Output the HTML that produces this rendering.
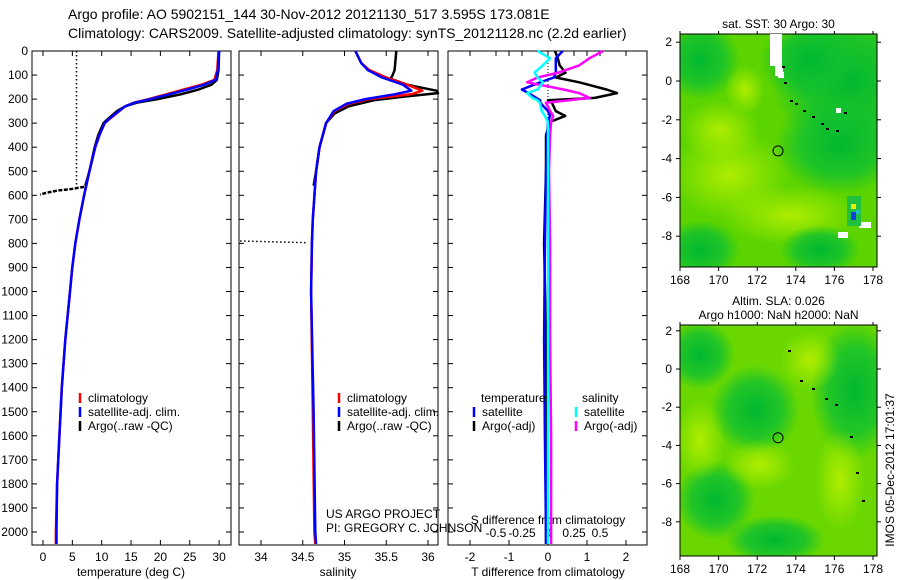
<!DOCTYPE html>
<html><head><meta charset="utf-8"><style>
html,body{margin:0;padding:0;background:#fff;}
svg{display:block;font-family:"Liberation Sans",sans-serif;}
</style></head><body>
<svg id="fig" width="900" height="580" viewBox="0 0 900 580">
<defs>
<radialGradient id="gY" cx="50%" cy="50%" r="50%"><stop offset="0" stop-color="#b8f000" stop-opacity="0.9"/><stop offset="1" stop-color="#b8f000" stop-opacity="0"/></radialGradient>
<radialGradient id="gD" cx="50%" cy="50%" r="50%"><stop offset="0" stop-color="#00b830" stop-opacity="1"/><stop offset="0.6" stop-color="#10c030" stop-opacity="0.8"/><stop offset="1" stop-color="#10c030" stop-opacity="0"/></radialGradient>
<clipPath id="cm1"><rect x="680" y="34" width="197" height="233"/></clipPath>
<clipPath id="cm2"><rect x="680" y="325" width="197" height="231"/></clipPath>
</defs>
<text x="68" y="19" font-size="14">Argo profile: AO 5902151_144 30-Nov-2012 20121130_517 3.595S 173.081E</text>
<text x="68" y="38" font-size="14">Climatology: CARS2009. Satellite-adjusted climatology: synTS_20121128.nc (2.2d earlier)</text>
<g id="plots"></g>
<g id="maps"></g>
<text transform="translate(894,470) rotate(-90)" font-size="12" text-anchor="middle">IMOS 05-Dec-2012 17:01:37</text>
</svg>
<script>
// ---- data ----
const depthTicks=[0,100,200,300,400,500,600,700,800,900,1000,1100,1200,1300,1400,1500,1600,1700,1800,1900,2000];
const tempTicks=[0,5,10,15,20,25,30];
const salTicks=[34,34.5,35,35.5,36];
const tdTicks=[-2,-1,0,1,2];
const sdTicks=[-0.5,-0.25,0,0.25,0.5];
const climDepth=[0,80,120,140,160,180,200,215,230,250,280,300,350,400,500,600,700,800,900,1000,1200,1400,1600,1800,2000,2050];
const climTemp=[29.9,29.7,29.2,27,24,21,18,15.5,14,13,11.5,10.5,9.6,8.9,7.9,7.0,6.2,5.5,5.0,4.6,3.8,3.2,2.8,2.4,2.2,2.2];
const satTemp=[30.0,29.8,29.4,27.5,24.6,21.5,18.3,15.6,14,12.9,11.4,10.5,9.6,8.9,7.9,7.0,6.2,5.5,5.0,4.6,3.8,3.2,2.8,2.4,2.3,2.3];
const argoDepth=[0,80,120,140,160,180,200,215,230,250,280,300,350,400,500,560];
const argoTemp=[30.0,29.9,29.6,28.7,26.5,23.5,19.5,16,14,12.6,11.2,10.3,9.4,8.8,7.9,7.2];
const badDepth=[565,575,580,590,597];
const badTemp=[7.0,4.5,2.5,0.5,-0.5];
const salDepth=[0,50,80,110,140,165,180,200,220,250,300,400,500,700,800,1000,1500,2000,2050];
const climSal=[35.13,35.2,35.3,35.5,35.75,35.93,35.8,35.3,35.05,34.88,34.78,34.7,34.66,34.62,34.61,34.6,34.62,34.64,34.65];
const satSal=[35.13,35.2,35.28,35.45,35.7,35.8,35.6,35.25,35.02,34.87,34.78,34.7,34.66,34.62,34.61,34.6,34.63,34.65,34.66];
const argoSalDepth=[0,80,105,115,140,165,175,190,205,230,260,300,400,500,560];
const argoSal=[35.62,35.6,35.57,35.55,35.75,36.1,36.12,35.7,35.35,35.05,34.88,34.78,34.7,34.66,34.63];
const diffDepth=[0,30,60,90,110,130,160,175,195,205,215,250,270,295,350,500,800,1200,1600,2000,2050];
const satTdiff=[0.38,0.2,0.2,0.2,0.15,-0.2,-0.67,-0.5,-0.3,-0.2,-0.2,0,0.05,0,-0.02,-0.05,-0.08,-0.1,-0.08,-0.05,-0.05];
const argoTdiff=[0.18,0.25,0.3,0.45,0.2,0.8,1.5,1.77,1.2,0,0.1,0.2,0.44,0.05,-0.05,-0.05,-0.1,-0.05,-0.05,-0.05,-0.05];
const satSdiff=[-0.1,0.02,-0.05,-0.13,-0.1,-0.05,-0.1,-0.2,-0.15,-0.1,-0.08,-0.06,-0.03,0,0,0,0,0,0,0,0];
const argoSdiff=[0.53,0.4,0.3,0.1,-0.1,-0.2,0.15,0.3,0.4,0.2,-0.02,0.02,0.05,0.03,0.02,0.01,0.02,0.02,0.03,0.03,0.03];
const lonTicks=[168,170,172,174,176,178];
const latTicks=[2,0,-2,-4,-6,-8];
const argoLon=173.08, argoLat=-3.6;

// ---- helpers ----
const NS="http://www.w3.org/2000/svg";
const plots=document.getElementById('plots');
function mk(tag,attrs,parent){const e=document.createElementNS(NS,tag);for(const k in attrs)e.setAttribute(k,attrs[k]);(parent||plots).appendChild(e);return e;}
const Y0=51,DY=0.2405,TOP=51,BOT=545;
const yD=d=>Y0+d*DY;
const xT=t=>43+t*5.87;
const xS=s=>261+(s-34)*83.5;
const xTd=v=>548+v*39;
const xSd=v=>548+v*104;
function line(xs,ys,fx,color,w,name,dash){
  const pts=xs.map((v,i)=>fx(v).toFixed(1)+','+yD(ys[i]).toFixed(1)).join(' ');
  const p=mk('polyline',{points:pts,fill:'none',stroke:color,'stroke-width':w,'stroke-linejoin':'round'});
  if(dash)p.setAttribute('stroke-dasharray',dash);
  
  
  return p;
}
function txt(x,y,s,anchor,name,size){const t=mk('text',{x:x,y:y,'font-size':size||12,'text-anchor':anchor||'start'});t.textContent=s;
  
  return t;}
function panel(x0,x1,name,ticksX,fx,labels,withY){
  const r=mk('rect',{x:x0,y:TOP,width:x1-x0,height:BOT-TOP,fill:'none',stroke:'#000','stroke-width':1});
  
  
  ticksX.forEach((v,i)=>{const x=fx(v);
    mk('line',{x1:x,x2:x,y1:TOP,y2:TOP+5,stroke:'#000'});
    mk('line',{x1:x,x2:x,y1:BOT,y2:BOT-5,stroke:'#000'});
    if(labels)txt(x,561,labels[i],'middle',name+'-x-tick');});
  depthTicks.forEach(d=>{const y=yD(d);
    mk('line',{x1:x0,x2:x0+5,y1:y,y2:y,stroke:'#000'});
    mk('line',{x1:x1,x2:x1-5,y1:y,y2:y,stroke:'#000'});
    if(withY)txt(x0-4,y+4,String(d),'end','depth-tick-label');});
}
// panel 1
panel(32,231,'temperature-panel',tempTicks,xT,tempTicks.map(String),true);
txt(131,576,'temperature (deg C)','middle','temperature-axis-title');
line([5.7,5.7],[0,570],xT,'#000',1.5,'temperature-qc-marker','1.5,2.5');
line(argoTemp,argoDepth,xT,'#000',2.5,'argo-temperature-line');
line(badTemp,badDepth,xT,'#000',2.5,'argo-bad-temperature-line','4,1.5');
line(climTemp,climDepth,xT,'#f00',2.5,'clim-temperature-line');
line(satTemp,climDepth,xT,'#00f',2.5,'sat-temperature-line');
// panel 2
panel(239,438,'salinity-panel',salTicks,xS,['34','34.5','35','35.5','36'],false);
txt(338,576,'salinity','middle','salinity-axis-title');
line([33.75,34.56],[790,797],xS,'#000',1.5,'salinity-qc-marker','1.5,2.5');
line(argoSal,argoSalDepth,xS,'#000',2.5,'argo-salinity-line');
line(climSal,salDepth,xS,'#f00',2.5,'clim-salinity-line');
line(satSal,salDepth,xS,'#00f',2.5,'sat-salinity-line');
// panel 3
panel(448,647,'difference-panel',tdTicks,xTd,['-2','-1','0','1','2'],false);
sdTicks.forEach(v=>{const x=xSd(v);mk('line',{x1:x,x2:x,y1:TOP,y2:TOP+5,stroke:'#000'});});
txt(548,576,'T difference from climatology','middle','tdiff-axis-title');
txt(548,524,'S difference from climatology','middle','sdiff-axis-title');
['-0.5','-0.25','0','0.25','0.5'].forEach((s,i)=>txt(xSd(sdTicks[i]),537,s,'middle','sdiff-tick-label'));
line([0,0],[0,300],xTd,'#000',1,'zero-line','1,2');
line(argoTdiff,diffDepth,xTd,'#000',2.5,'argo-tdiff-line');
line(satTdiff,diffDepth,xTd,'#00f',2.5,'sat-tdiff-line');
line(argoSdiff,diffDepth,xSd,'#f0f',2.5,'argo-sdiff-line');
line(satSdiff,diffDepth,xSd,'#0ff',2.5,'sat-sdiff-line');
// legends
function leg(x,y,c,s,name){mk('line',{x1:x,x2:x,y1:y-9,y2:y+1,stroke:c,'stroke-width':2.5});txt(x+8,y,s,'start',name);}
leg(80,402,'#f00','climatology','legend-climatology');
leg(80,416,'#00f','satellite-adj. clim.','legend-satellite');
leg(80,430,'#000','Argo(..raw -QC)','legend-argo');
leg(339,402,'#f00','climatology','legend-climatology-2');
leg(339,416,'#00f','satellite-adj. clim.','legend-satellite-2');
leg(339,430,'#000','Argo(..raw -QC)','legend-argo-2');
txt(481,402,'temperature','start','legend-temperature-header');
txt(582,402,'salinity','start','legend-salinity-header');
leg(474,416,'#00f','satellite','legend-sat-t');
leg(474,430,'#000','Argo(-adj)','legend-argo-t');
leg(576,416,'#0ff','satellite','legend-sat-s');
leg(576,430,'#f0f','Argo(-adj)','legend-argo-s');
txt(326,518,'US ARGO PROJECT','start','project-label');
txt(326,532,'PI: GREGORY C. JOHNSON','start','pi-label');

// ---- maps ----
const maps=document.getElementById('maps');
function mapPanel(x0,y0,w,h,lat0,latScale,clip,base,blobs,name,title1,title2){
  const g=mk('g',{'clip-path':'url(#'+clip+')'},maps);
  mk('rect',{x:x0,y:y0,width:w,height:h,fill:base},g);
  blobs.forEach(b=>{mk('ellipse',{cx:b[0],cy:b[1],rx:b[2],ry:b[3],fill:b[4]},g);});
  const fx=l=>680+(l-168)*19.3, fy=l=>lat0-l*latScale;
  const r=mk('rect',{x:x0,y:y0,width:w,height:h,fill:'none',stroke:'#000'},maps);
  
  
  lonTicks.forEach(l=>{const x=fx(l);mk('line',{x1:x,x2:x,y1:y0+h,y2:y0+h+4,stroke:'#000'},maps);
    mk('line',{x1:x,x2:x,y1:y0,y2:y0-3,stroke:'#000'},maps);
    const t=txt(x,y0+h+17,String(l),'middle',name+'-lon-label');maps.appendChild(t);});
  latTicks.forEach(l=>{const y=fy(l);mk('line',{x1:x0-4,x2:x0,y1:y,y2:y,stroke:'#000'},maps);
    mk('line',{x1:x0+w,x2:x0+w+4,y1:y,y2:y,stroke:'#000'},maps);
    const t=txt(x0-8,y+4,String(l),'end',name+'-lat-label');maps.appendChild(t);});
  const c=mk('circle',{cx:fx(argoLon),cy:fy(argoLat),r:5,fill:'none',stroke:'#000','stroke-width':1},maps);
  
  
  if(title1){const t=txt(x0+w/2,y0-6,title1,'middle',name+'-title');maps.appendChild(t);}
  if(title2){const t=txt(x0+w/2,y0-20,title2,'middle',name+'-title-2');maps.appendChild(t);}
  return {fx,fy};
}
mapPanel(680,34,197,233,81,19.4,'cm1','#5cd400',[
 [850,80,80,70,'url(#gD)'],[840,145,65,50,'url(#gD)'],[810,60,50,40,'url(#gD)'],[700,60,40,40,'url(#gD)'],
 [730,175,60,45,'url(#gY)'],[790,215,70,30,'url(#gY)'],[720,130,40,30,'url(#gY)'],
 [700,250,40,30,'url(#gD)'],[820,250,40,25,'url(#gD)'],[745,90,20,25,'url(#gY)']
],'sst-map','sat. SST: 30 Argo: 30',null);
[[770,34,12,32],[775,66,8,10],[778,72,6,6],[836,108,5,5],[838,232,10,6],[859,222,12,6]].forEach(r=>mk('rect',{x:r[0],y:r[1],width:r[2],height:r[3],fill:'#fff'},maps));
mk('rect',{x:847,y:196,width:14,height:30,fill:'#20c040'},maps);
mk('rect',{x:851,y:204,width:5,height:5,fill:'#e8f000'},maps);
mk('rect',{x:851,y:212,width:5,height:8,fill:'#1040e0'},maps);
mk('rect',{x:856,y:210,width:4,height:4,fill:'#20c0c0'},maps);
mapPanel(680,325,197,231,369,19.1,'cm2','#6ad800',[
 [855,390,45,70,'url(#gD)'],[700,355,35,35,'url(#gD)'],[755,410,45,45,'url(#gD)'],
 [715,500,40,40,'url(#gD)'],[775,540,50,25,'url(#gD)'],[810,360,30,30,'url(#gY)'],
 [840,480,25,50,'url(#gY)'],[700,440,25,40,'url(#gY)'],[760,465,35,25,'url(#gY)']
],'sla-map','Argo h1000: NaN h2000: NaN','Altim. SLA: 0.026');
[[782,66],[784,82],[790,100],[795,103],[803,110],[812,116],[821,123],[836,130],[844,112],[826,128],[788,350],[800,380],[812,388],[825,398],[835,404],[850,436],[856,472],[862,500]].forEach(p=>mk('rect',{x:p[0],y:p[1],width:3,height:2,fill:'#000'},maps));
</script>
</body></html>
